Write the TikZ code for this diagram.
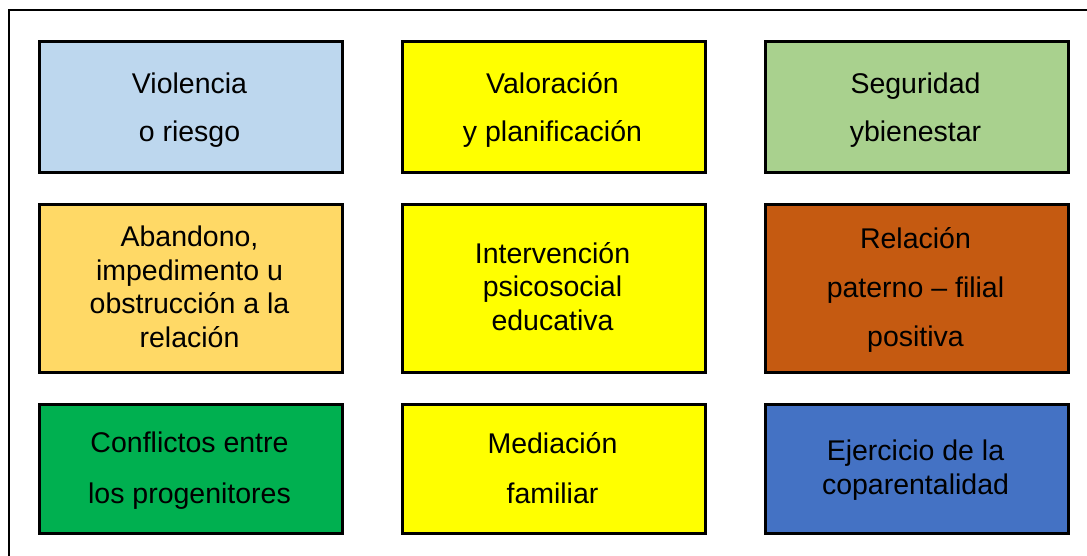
\documentclass[tikz,border=0pt]{standalone}
\usepackage{fontspec}
\setmainfont{Liberation Sans}
\definecolor{cBlue}{HTML}{BDD7EE}
\definecolor{cYellow}{HTML}{FFFF00}
\definecolor{cLgreen}{HTML}{A9D18E}
\definecolor{cGold}{HTML}{FFD966}
\definecolor{cRust}{HTML}{C55A11}
\definecolor{cGreen}{HTML}{00B050}
\definecolor{cDblue}{HTML}{4472C4}
\tikzset{
  cell/.style={draw=black, line width=2.6pt, inner sep=0pt, minimum width=303pt, minimum height=#1, anchor=north west},
  txt/.style={anchor=base, inner sep=0pt, font=\fontsize{28.5}{34}\selectfont, text=black},
}
\begin{document}
\begin{tikzpicture}[x=1pt, y=-1pt]
\useasboundingbox (0,0) rectangle (1087,555);
\fill[white] (0,0) rectangle (1087,555);
\draw[line width=2.6pt] (9,556) -- (9,10) -- (1088,10);
% row 1
\node[cell=131pt, fill=cBlue]   (b1) at (38,40) {};
\node[cell=131pt, fill=cYellow] (b2) at (401,40) {};
\node[cell=131pt, fill=cLgreen] (b3) at (764,40) {};
% row 2
\node[cell=168pt, fill=cGold]   (b4) at (38,203) {};
\node[cell=168pt, fill=cYellow] (b5) at (401,203) {};
\node[cell=168pt, fill=cRust]   (b6) at (764,203) {};
% row 3
\node[cell=129pt, fill=cGreen]  (b7) at (38,403) {};
\node[cell=129pt, fill=cYellow] (b8) at (401,403) {};
\node[cell=129pt, fill=cDblue]  (b9) at (764,403) {};
% texts
\node[txt] (t1a) at (189.5,93) {Violencia};
\node[txt] (t1b) at (189.5,141) {o riesgo};
\node[txt] (t2a) at (552.5,93) {Valoración};
\node[txt] (t2b) at (552.5,141) {y planificación};
\node[txt] (t3a) at (915.5,93) {Seguridad};
\node[txt] (t3b) at (915.5,141) {ybienestar};
\node[txt] (t4a) at (189.5,246) {Abandono,};
\node[txt] (t4b) at (189.5,280) {impedimento u};
\node[txt] (t4c) at (189.5,313.5) {obstrucción a la};
\node[txt] (t4d) at (189.5,347) {relación};
\node[txt] (t5a) at (552.5,263) {Intervención};
\node[txt] (t5b) at (552.5,296.5) {psicosocial};
\node[txt] (t5c) at (552.5,330.5) {educativa};
\node[txt] (t6a) at (915.5,248) {Relación};
\node[txt] (t6b) at (915.5,297) {paterno – filial};
\node[txt] (t6c) at (915.5,346) {positiva};
\node[txt] (t7a) at (189.5,452) {Conflictos entre};
\node[txt] (t7b) at (189.5,503) {los progenitores};
\node[txt] (t8a) at (552.5,453) {Mediación};
\node[txt] (t8b) at (552.5,503) {familiar};
\node[txt] (t9a) at (915.5,460) {Ejercicio de la};
\node[txt] (t9b) at (915.5,494) {coparentalidad};
\end{tikzpicture}
\end{document}
